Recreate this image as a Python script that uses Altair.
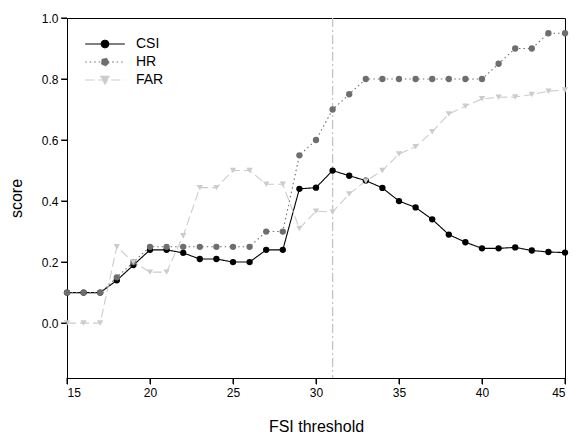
import altair as alt
import pandas as pd

thresholds = list(range(15, 46))
csi = [0.1, 0.1, 0.1, 0.14, 0.19, 0.24, 0.24, 0.23, 0.21, 0.21, 0.2, 0.2, 0.24, 0.24,
       0.44, 0.444, 0.5, 0.483, 0.467, 0.443, 0.4, 0.379, 0.34, 0.29, 0.265, 0.245,
       0.245, 0.248, 0.238, 0.233, 0.231]
hr = [0.1, 0.1, 0.1, 0.15, 0.2, 0.25, 0.25, 0.25, 0.25, 0.25, 0.25, 0.25, 0.3, 0.3,
      0.55, 0.6, 0.7, 0.75, 0.8, 0.8, 0.8, 0.8, 0.8, 0.8, 0.8, 0.8, 0.85, 0.9, 0.9,
      0.95, 0.95]
far = [0.0, 0.0, 0.0, 0.25, 0.2, 0.167, 0.167, 0.286, 0.444, 0.444, 0.5, 0.5, 0.455,
       0.455, 0.31, 0.367, 0.364, 0.423, 0.466, 0.5, 0.554, 0.578, 0.627, 0.685,
       0.711, 0.735, 0.74, 0.741, 0.749, 0.76, 0.764]
series_names = ["CSI", "HR", "FAR"]
series_colors = ["#000000", "#6e6e6e", "#cccccc"]
series_dash = [[1, 0], [1.5, 3], [9, 4]]
best_threshold = [31]
x_ticks = [15, 20, 25, 30, 35, 40, 45]
y_ticks = [0.0, 0.2, 0.4, 0.6, 0.8, 1.0]

rows = []
for name, vals in zip(series_names, [csi, hr, far]):
    for t, v in zip(thresholds, vals):
        rows.append({"threshold": t, "score": v, "series": name})
df = pd.DataFrame(rows)
vdf = pd.DataFrame({"threshold": best_threshold})
xtdf = pd.DataFrame({"threshold": x_ticks})
ytdf = pd.DataFrame({"score": y_ticks})

circle_path = "M-2.2,0H2.2M0.42,0A0.42,0.42 0 1,1 -0.42,0A0.42,0.42 0 1,1 0.42,0Z"
tri_path = "M-2.2,0H2.2M-0.5,-0.4L0.5,-0.4L0,0.45Z"
marker_shapes = ["circle", "circle", "triangle-down"]

xscale = alt.Scale(domain=[15, 45], nice=False, zero=False)
yscale = alt.Scale(domain=[-0.18, 1.0], nice=False, zero=False)

xs = alt.X("threshold:Q", scale=xscale,
           axis=alt.Axis(title="FSI threshold", values=x_ticks,
                         grid=False, ticks=True, tickSize=6, tickWidth=1, tickColor="black",
                         domain=True, labelPadding=3, titlePadding=20))
ys = alt.Y("score:Q", scale=yscale,
           axis=alt.Axis(title="score", values=y_ticks, format=".1f",
                         grid=False, ticks=True, tickSize=6, tickWidth=1, tickColor="black",
                         domain=True, labelPadding=3, titlePadding=17))

cscale = alt.Scale(domain=series_names, range=series_colors)
dscale = alt.Scale(domain=series_names, range=series_dash)

leg = alt.Legend(
    title=None, orient="none", legendX=28, legendY=16,
    symbolSize=324, symbolStrokeWidth=1.1, symbolOpacity=1,
    symbolType=alt.ExprRef("datum.value === 'FAR' ? '" + tri_path + "' : '" + circle_path + "'"),
    labelFontSize=14, labelOffset=21, rowPadding=1,
)

vline = alt.Chart(vdf).mark_rule(color="#c4c4c4", strokeWidth=1.3,
                                 strokeDash=[9, 3, 2, 3]).encode(x="threshold:Q")

xtick_marks = alt.Chart(xtdf).mark_rule(color="black", strokeWidth=1).encode(
    x="threshold:Q", y=alt.value(360), y2=alt.value(366))
ytick_marks = alt.Chart(ytdf).mark_rule(color="black", strokeWidth=1).encode(
    y="score:Q", x=alt.value(-6), x2=alt.value(0))

lines = alt.Chart(df).mark_line(strokeWidth=1.1).encode(
    x=xs, y=ys,
    color=alt.Color("series:N", scale=cscale, legend=None),
    strokeDash=alt.StrokeDash("series:N", scale=dscale, legend=None),
    order="threshold:Q",
)

points = alt.Chart(df).mark_point(filled=True, size=40, opacity=1).encode(
    x=xs, y=ys,
    color=alt.Color("series:N", scale=cscale, legend=None),
    shape=alt.Shape("series:N", scale=alt.Scale(domain=series_names, range=marker_shapes),
                    legend=None),
)

legend_layer = alt.Chart(df).transform_filter("false").mark_point(filled=True).encode(
    x=xs, y=ys,
    fill=alt.Fill("series:N", scale=cscale, legend=leg),
    stroke=alt.Stroke("series:N", scale=cscale, legend=leg),
    strokeDash=alt.StrokeDash("series:N", scale=dscale, legend=leg),
)

chart = alt.layer(vline, lines, points, legend_layer, xtick_marks, ytick_marks).resolve_legend(
    color="independent", strokeDash="independent", shape="independent",
    fill="independent", stroke="independent",
).properties(
    width=498, height=360,
    autosize=alt.AutoSizeParams(type="none"),
    padding={"left": 67, "top": 18, "right": 9, "bottom": 56},
).configure_view(stroke="black", strokeWidth=1).configure_axis(
    labelFont="Liberation Sans", titleFont="Liberation Sans", labelFontSize=12,
    titleFontSize=16, titleFontWeight="normal", labelColor="black", titleColor="black",
    domainColor="black", tickColor="black",
).configure_legend(labelFont="Liberation Sans", labelColor="black")

chart.save("out.html", embed_options={"renderer": "svg", "actions": False})
